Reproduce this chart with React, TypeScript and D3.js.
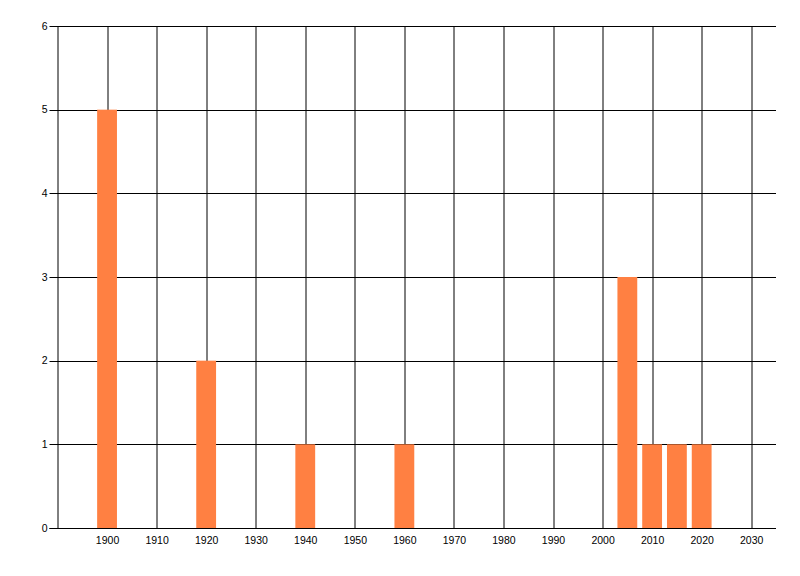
import React, { useEffect, useRef } from 'react';
import * as d3 from 'd3';

// bar positions (year) and counts
const years = [1900, 1920, 1940, 1960, 2005, 2010, 2015, 2020];
const counts = [5, 2, 1, 1, 3, 1, 1, 1];
const xTicks = [1900, 1910, 1920, 1930, 1940, 1950, 1960, 1970, 1980, 1990, 2000, 2010, 2020, 2030];
const yTicks = [0, 1, 2, 3, 4, 5, 6];

const width = 800;
const height = 576;

export default function App() {
  const svgRef = useRef<SVGSVGElement>(null);

  useEffect(() => {
    if (!svgRef.current) return;
    const svg = d3.select(svgRef.current);
    svg.selectAll('*').remove();

    const margin = { top: 26, right: 24, bottom: 48, left: 57.5 };
    const innerWidth = width - margin.left - margin.right;
    const innerHeight = height - margin.top - margin.bottom;

    const g = svg
      .append('g')
      .attr('transform', `translate(${margin.left},${margin.top})`);

    const xScale = d3.scaleLinear().domain([1890, 2035]).range([0, innerWidth]);
    const yScale = d3.scaleLinear().domain([0, 6]).range([innerHeight, 0]);

    // Vertical grid lines
    g.append('g')
      .selectAll('line')
      .data(xTicks)
      .enter()
      .append('line')
      .attr('x1', (d) => Math.round(xScale(d)) + 0.5)
      .attr('x2', (d) => Math.round(xScale(d)) + 0.5)
      .attr('y1', 0)
      .attr('y2', innerHeight)
      .attr('stroke', '#000')
      .attr('stroke-width', 1);

    // Horizontal grid lines
    g.append('g')
      .selectAll('line')
      .data(yTicks)
      .enter()
      .append('line')
      .attr('x1', -8)
      .attr('x2', innerWidth)
      .attr('y1', (d) => Math.round(yScale(d)) + 0.5)
      .attr('y2', (d) => Math.round(yScale(d)) + 0.5)
      .attr('stroke', '#000')
      .attr('stroke-width', 1);

    // Bars (4 years wide, centred on the year), drawn over the grid
    g.selectAll('rect.bar')
      .data(years)
      .enter()
      .append('rect')
      .attr('class', 'bar')
      .attr('x', (d) => xScale(d - 2))
      .attr('width', (d) => xScale(d + 2) - xScale(d - 2))
      .attr('y', (_, i) => yScale(counts[i]))
      .attr('height', (_, i) => yScale(0) - yScale(counts[i]))
      .attr('fill', '#ff8042');

    // Axis lines
    g.append('line')
      .attr('x1', 0.5)
      .attr('x2', 0.5)
      .attr('y1', 0)
      .attr('y2', innerHeight)
      .attr('stroke', '#000');

    g.append('line')
      .attr('x1', -8)
      .attr('x2', innerWidth)
      .attr('y1', Math.round(yScale(0)) + 0.5)
      .attr('y2', Math.round(yScale(0)) + 0.5)
      .attr('stroke', '#000');

    // Y labels
    g.append('g')
      .selectAll('text')
      .data(yTicks)
      .enter()
      .append('text')
      .attr('x', -10)
      .attr('y', (d) => yScale(d))
      .attr('dy', '0.35em')
      .attr('text-anchor', 'end')
      .attr('font-family', 'Liberation Sans, Arial, sans-serif')
      .attr('font-size', '10.5px')
      .attr('fill', '#000')
      .text((d) => d);

    // X labels
    g.append('g')
      .selectAll('text')
      .data(xTicks)
      .enter()
      .append('text')
      .attr('x', (d) => xScale(d) + 0.5)
      .attr('y', innerHeight + 16)
      .attr('text-anchor', 'middle')
      .attr('font-family', 'Liberation Sans, Arial, sans-serif')
      .attr('font-size', '10.5px')
      .attr('fill', '#000')
      .text((d) => d);
  }, []);

  return (
    <svg
      ref={svgRef}
      width={width}
      height={height}
      style={{ position: 'absolute', left: 0, top: 0, background: '#fff' }}
    />
  );
}
